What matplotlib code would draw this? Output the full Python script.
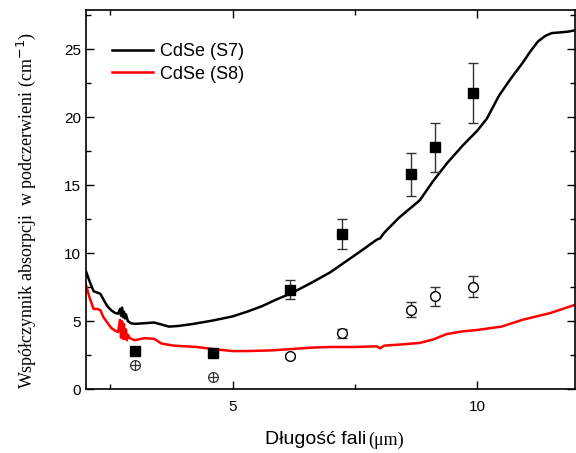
import numpy as np
import matplotlib.pyplot as plt
from matplotlib.ticker import MultipleLocator

# absorption spectra
s7_x = [2.0, 2.08, 2.16, 2.24, 2.3, 2.36, 2.44, 2.52, 2.6, 2.66, 2.7, 2.72, 2.74, 2.76, 2.78, 2.8, 2.82,
        2.86, 2.92, 3.0, 3.2, 3.4, 3.55, 3.7, 3.9, 4.2, 4.6, 5.0, 5.3, 5.6, 5.9, 6.2, 6.6, 7.0, 7.24,
        7.6, 7.95, 8.02, 8.1, 8.4, 8.83, 9.1, 9.38, 9.7, 10.0, 10.2, 10.45, 10.7, 10.93, 11.1,
        11.25, 11.4, 11.53, 11.7, 11.85, 12.0]
s7_y = [8.7, 7.9, 7.2, 7.1, 7.0, 6.6, 6.1, 5.8, 5.6, 5.55, 5.9, 5.4, 6.0, 5.3, 5.7, 5.2, 5.5,
        5.0, 4.85, 4.8, 4.85, 4.9, 4.75, 4.6, 4.65, 4.8, 5.05, 5.35, 5.7, 6.1, 6.6, 7.05, 7.8, 8.6, 9.2,
        10.1, 11.0, 11.1, 11.5, 12.6, 13.9, 15.3, 16.6, 17.9, 19.0, 19.9, 21.6, 22.9, 24.0, 24.9,
        25.6, 26.0, 26.2, 26.25, 26.3, 26.4]

s8_x = [2.0, 2.08, 2.16, 2.24, 2.3, 2.36, 2.44, 2.52, 2.6, 2.66, 2.7, 2.72, 2.74, 2.76, 2.78, 2.8, 2.82,
        2.84, 2.86, 2.9, 3.0, 3.2, 3.4, 3.55, 3.8, 4.27, 4.6, 5.0, 5.28, 5.8, 6.2, 6.6, 7.0, 7.5,
        7.95, 8.02, 8.1, 8.5, 8.83, 9.1, 9.38, 9.7, 10.0, 10.5, 10.93, 11.5, 12.0]
s8_y = [7.7, 6.7, 5.9, 5.9, 5.8, 5.3, 4.9, 4.5, 4.3, 4.2, 5.1, 3.8, 5.0, 3.7, 4.8, 3.7, 4.4,
        3.6, 4.0, 3.75, 3.6, 3.75, 3.7, 3.35, 3.2, 3.1, 2.95, 2.8, 2.8, 2.85, 2.95, 3.05, 3.1, 3.1,
        3.15, 3.0, 3.2, 3.3, 3.4, 3.65, 4.05, 4.25, 4.35, 4.6, 5.1, 5.6, 6.2]

# measured points
sq_x = [3.0, 4.6, 6.17, 7.24, 8.65, 9.15, 9.92]
sq_y = [2.8, 2.65, 7.3, 11.4, 15.8, 17.8, 21.8]
sq_err = [0, 0, 0.7, 1.1, 1.6, 1.8, 2.2]

ci_x = [6.17, 7.24, 8.65, 9.15, 9.92]
ci_y = [2.45, 4.1, 5.85, 6.85, 7.55]
ci_err = [0.15, 0.35, 0.55, 0.7, 0.75]

cross_x = [3.0, 4.6]
cross_y = [1.8, 0.9]

fig = plt.figure(figsize=(5.76, 4.53), dpi=100)
ax = fig.add_axes([0.149, 0.141, 0.849, 0.837])

ax.plot(s7_x, s7_y, color='black', lw=1.8, label='CdSe (S7)')
ax.plot(s8_x, s8_y, color='#ff0000', lw=1.8, label='CdSe (S8)')

ax.errorbar(sq_x, sq_y, yerr=sq_err, fmt='s', color='black', ms=6.5,
            ecolor='#333333', elinewidth=1, capsize=3.5, capthick=1)
ax.errorbar(ci_x, ci_y, yerr=ci_err, fmt='o', mfc='white', mec='black', ms=7,
            ecolor='#333333', elinewidth=1, capsize=3.5, capthick=1, mew=1)
ax.plot(cross_x, cross_y, 'o', mfc='white', mec='#333333', ms=7, mew=0.9)
ax.plot(cross_x, cross_y, '+', color='#333333', ms=7, mew=0.9)

ax.set_xlim(2, 12)
ax.set_ylim(0, 27.9)
ax.xaxis.set_major_locator(MultipleLocator(5))
ax.xaxis.set_minor_locator(MultipleLocator(2.5))
ax.yaxis.set_major_locator(MultipleLocator(5))
ax.yaxis.set_minor_locator(MultipleLocator(2.5))
ax.tick_params(which='both', direction='in', top=True, right=True, labelsize=11)
ax.tick_params(which='major', length=6, width=1)
ax.tick_params(axis='x', which='major', pad=8)
ax.tick_params(which='minor', length=3.5, width=1)
for lab in ax.get_xticklabels() + ax.get_yticklabels():
    lab.set_fontfamily('Liberation Sans')
for sp in ax.spines.values():
    sp.set_linewidth(1.2)

leg = ax.legend(loc='upper left', bbox_to_anchor=(0.02, 0.955), frameon=False,
                prop={'family': 'Liberation Sans', 'size': 13}, handlelength=2.3,
                handletextpad=0.35, labelspacing=0.3)

fig.text(0.045, 0.535, 'Współczynnik absorpcji  w podczerwieni (cm$^{-1}$)', rotation=90,
         ha='center', va='center', family='Liberation Serif', size=13)
fig.text(0.636, 0.029, 'Długość fali', ha='right', va='center',
         family='Liberation Sans', size=14)
fig.text(0.639, 0.029, '(μm)', ha='left', va='center',
         family='Liberation Serif', size=13)

plt.savefig('out.png', dpi=100)
